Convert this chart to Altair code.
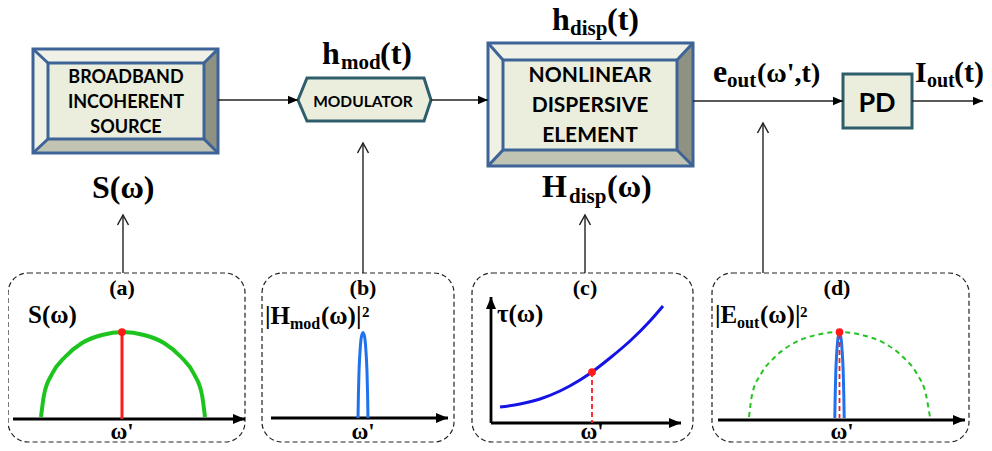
import altair as alt
import pandas as pd

# ---------------- data (positions, in px) ----------------
# bevelled blocks: outer frame and inner face
block_name = ["source", "dispersive"]
outer_left = [33, 488]
outer_top = [49, 43]
outer_right = [218, 693]
outer_bottom = [153, 166]
inner_left = [48, 503]
inner_top = [63, 60]
inner_right = [204, 677]
inner_bottom = [139, 150]

# modulator hexagon
hex_x = [298, 307, 424, 431]
hex_top = [100, 78, 78, 100]
hex_bottom = [100, 121, 121, 100]

# photodetector box
pd_left, pd_top, pd_right, pd_bottom = [843], [74], [912], [128]

# signal path (horizontal arrows)
conn_from = [218, 431, 693, 912]
conn_to = [298, 488, 843, 983]
conn_y = [100, 100, 101, 101]

# vertical arrows from the insets
varr_x = [123, 363, 585, 763]
varr_tip = [215, 143, 215, 123]
varr_foot = [273, 273, 273, 273]

# inset panels
panel_left = [8, 262, 472, 712]
panel_right = [245, 454, 693, 969]
panel_top = [273, 273, 273, 273]
panel_bottom = [442, 442, 442, 442]

# inset horizontal axes
axis_from = [13, 271, 491, 718]
axis_to = [245, 448, 681, 965]
axis_y = [419, 418, 423, 420]
# inset (c) vertical axis
vaxis_x = [491]
vaxis_from = [423]
vaxis_to = [297]

# (a) source spectrum S(w)
spec_a_x = [41, 44, 52, 65, 82, 102, 123, 144, 164, 181, 194, 202, 205]
spec_a_y = [417, 395, 374, 357, 343, 335, 332, 335, 343, 357, 374, 395, 417]
# (d) source spectrum (dashed)
spec_d_x = [749, 752, 761, 775, 794, 816, 839, 862, 884, 903, 917, 926, 930]
spec_d_y = [417, 395, 374, 357, 343, 335, 332, 335, 343, 357, 374, 395, 417]
# (b) modulator transfer |Hmod|^2
peak_b_x = [358.0, 358.4, 359.0, 360.0, 361.2, 363.0, 364.8, 366.0, 367.0, 367.6, 368.0]
peak_b_y = [418, 395, 372, 352, 338, 332.5, 338, 352, 372, 395, 418]
# (d) output spectrum |Eout|^2
peak_d_x = [834.8, 835.2, 835.8, 836.8, 838.0, 839.5, 841.0, 842.2, 843.2, 843.8, 844.2]
peak_d_y = [418, 395, 372, 352, 338, 333, 338, 352, 372, 395, 418]
# (c) group delay tau(w)
tau_x = [500, 520, 540, 560, 580, 592, 610, 630, 650, 663]
tau_y = [407, 404, 399, 391, 380, 372, 358, 341, 321, 306]

# red markers at w'
dot_x = [122, 592, 839.5]
dot_y = [332, 372, 332]
red_solid_x, red_solid_top, red_solid_bottom = [122], [332], [419]
red_dash_x = [592, 839.5]
red_dash_top = [372, 334]
red_dash_bottom = [423, 418]

# block texts
src_text = ["BROADBAND", "INCOHERENT", "SOURCE"]
src_text_y = [83, 108, 133]
disp_text = ["NONLINEAR", "DISPERSIVE", "ELEMENT"]
disp_text_y = [82, 112, 142]

# math labels: main pieces, subscripts
big_text = ["h", "(t)", "h", "(t)", "H", "(\u03c9)", "S(\u03c9)", "e"]
big_x = [322, 380, 552, 607, 542, 607, 92, 713]
big_y = [64, 64, 30, 30, 197, 197, 198, 82]
eout_text = ["(\u03c9',t)"]
eout_x = [757]
eout_y = [82]
iout_text = ["I", "(t)"]
iout_x = [915, 954]
iout_y = [82, 82]
bigsub_text = ["mod", "disp", "disp", "out"]
bigsub_x = [341, 570, 569, 727]
bigsub_y = [69, 35, 203, 87]
iout_sub_text = ["out"]
iout_sub_x = [927]
iout_sub_y = [87]

pan_text = ["S(\u03c9)", "|H", "(\u03c9)|", "\u03c4(\u03c9)", "|E", "(\u03c9)|"]
pan_x = [28, 265, 321, 497, 715, 760]
pan_y = [323, 324, 324, 322, 323, 323]
pansub_text = ["mod", "out"]
pansub_x = [290, 737]
pansub_y = [329, 328]
pansup_text = ["2", "2"]
pansup_x = [362, 800]
pansup_y = [317, 317]
title_text = ["(a)", "(b)", "(c)", "(d)"]
title_x = [122, 363, 585, 837]
title_y = [295, 295, 295, 295]
omega_x = [122, 363, 592, 842]
omega_y = [439, 439, 439, 439]

# ---------------- styling ----------------
FACE = "#ebeedd"
BEV_TOP = "#f0f2e8"
BEV_LEFT = "#eef1e4"
BEV_RIGHT = "#8f9283"
BEV_BOT = "#c1c4b3"
BLUE_EDGE = "#3e6497"
TEAL_EDGE = "#2e5e6b"
SERIF = "Liberation Serif"
SANS = "Lato"

XS = alt.Scale(domain=[8, 984], nice=False, zero=False)
YS = alt.Scale(domain=[8, 443], nice=False, zero=False, reverse=True)


def ex(f="x"):
    return alt.X(f"{f}:Q", scale=XS, axis=None, stack=False)


def ey(f="y"):
    return alt.Y(f"{f}:Q", scale=YS, axis=None, stack=False)


layers = []

# --- bevel pieces ---
top_rows, bot_rows, left_rows, right_rows = [], [], [], []
for k, nm in enumerate(block_name):
    L, T, R, B = outer_left[k], outer_top[k], outer_right[k], outer_bottom[k]
    l, t, r, b = inner_left[k], inner_top[k], inner_right[k], inner_bottom[k]
    for x, y1, y2 in [(L, T, T), (l, T, t), (r, T, t), (R, T, T)]:
        top_rows.append(dict(p=nm, x=x, y=y1, y2=y2))
    for x, y1, y2 in [(L, B, B), (l, b, B), (r, b, B), (R, B, B)]:
        bot_rows.append(dict(p=nm, x=x, y=y1, y2=y2))
    for y, x1, x2 in [(T, L, L), (t, L, l), (b, L, l), (B, L, L)]:
        left_rows.append(dict(p=nm, y=y, x=x1, x2=x2))
    for y, x1, x2 in [(T, R, R), (t, r, R), (b, r, R), (B, R, R)]:
        right_rows.append(dict(p=nm, y=y, x=x1, x2=x2))

for rows, col in [(top_rows, BEV_TOP), (bot_rows, BEV_BOT)]:
    layers.append(alt.Chart(pd.DataFrame(rows)).mark_area(orient="vertical", color=col, opacity=1).encode(
        x=ex(), y=ey(), y2="y2:Q", detail="p:N"))
for rows, col in [(left_rows, BEV_LEFT), (right_rows, BEV_RIGHT)]:
    layers.append(alt.Chart(pd.DataFrame(rows)).mark_area(orient="horizontal", color=col, opacity=1).encode(
        y=ey(), x=ex(), x2="x2:Q", detail="p:N"))

blocks = pd.DataFrame(dict(p=block_name, L=outer_left, T=outer_top, R=outer_right, B=outer_bottom,
                           l=inner_left, t=inner_top, r=inner_right, b=inner_bottom))
layers.append(alt.Chart(blocks).mark_rect(fillOpacity=0, stroke=BLUE_EDGE, strokeWidth=3).encode(
    x=ex("L"), x2="R:Q", y=ey("T"), y2="B:Q"))
layers.append(alt.Chart(blocks).mark_rect(fill=FACE, stroke=BLUE_EDGE, strokeWidth=3).encode(
    x=ex("l"), x2="r:Q", y=ey("t"), y2="b:Q"))
diag = []
for k in range(len(block_name)):
    diag += [dict(x=outer_left[k], y=outer_top[k], x2=inner_left[k], y2=inner_top[k]),
             dict(x=outer_right[k], y=outer_top[k], x2=inner_right[k], y2=inner_top[k]),
             dict(x=outer_left[k], y=outer_bottom[k], x2=inner_left[k], y2=inner_bottom[k]),
             dict(x=outer_right[k], y=outer_bottom[k], x2=inner_right[k], y2=inner_bottom[k])]
layers.append(alt.Chart(pd.DataFrame(diag)).mark_rule(color=BLUE_EDGE, strokeWidth=3).encode(
    x=ex(), y=ey(), x2="x2:Q", y2="y2:Q"))

# --- modulator hexagon ---
layers.append(alt.Chart(pd.DataFrame(dict(x=hex_x, y=hex_top, y2=hex_bottom))).mark_area(
    orient="vertical", fill=FACE, stroke=TEAL_EDGE, strokeWidth=3, strokeJoin="miter", opacity=1).encode(
    x=ex(), y=ey(), y2="y2:Q"))

# --- PD box ---
layers.append(alt.Chart(pd.DataFrame(dict(L=pd_left, T=pd_top, R=pd_right, B=pd_bottom))).mark_rect(
    fill=FACE, stroke=TEAL_EDGE, strokeWidth=3).encode(x=ex("L"), x2="R:Q", y=ey("T"), y2="B:Q"))

# --- signal path arrows ---
conn = pd.DataFrame(dict(x=conn_from, x2=conn_to, y=conn_y))
layers.append(alt.Chart(conn).mark_rule(color="#222222", strokeWidth=1.6).encode(x=ex(), x2="x2:Q", y=ey()))
layers.append(alt.Chart(conn).mark_point(shape="M0,0L-1,-0.42L-1,0.42Z", size=400, filled=True,
                                         color="black", opacity=1, strokeWidth=0).encode(x=ex("x2"), y=ey()))

# --- vertical arrows ---
varr = pd.DataFrame(dict(x=varr_x, y=varr_tip, y2=varr_foot))
layers.append(alt.Chart(varr).mark_rule(color="#222222", strokeWidth=1.4).encode(x=ex(), y=ey(), y2="y2:Q"))
layers.append(alt.Chart(varr).mark_point(shape="M-0.55,1L0,0L0.55,1", size=400, filled=False,
                                         color="#222222", opacity=1, strokeWidth=1.5).encode(x=ex(), y=ey()))

# --- inset panels ---
layers.append(alt.Chart(pd.DataFrame(dict(L=panel_left, R=panel_right, T=panel_top, B=panel_bottom))).mark_rect(
    fill="white", stroke="#222222", strokeWidth=1.2, strokeDash=[5, 3], cornerRadius=20).encode(
    x=ex("L"), x2="R:Q", y=ey("T"), y2="B:Q"))

# --- inset axes ---
ax = pd.DataFrame(dict(x=axis_from, x2=axis_to, y=axis_y))
layers.append(alt.Chart(ax).mark_rule(color="black", strokeWidth=2.8).encode(x=ex(), x2="x2:Q", y=ey()))
layers.append(alt.Chart(ax).mark_point(shape="M0,0L-1,-0.42L-1,0.42Z", size=576, filled=True,
                                       color="black", opacity=1, strokeWidth=0).encode(x=ex("x2"), y=ey()))
vax = pd.DataFrame(dict(x=vaxis_x, y=vaxis_from, y2=vaxis_to))
layers.append(alt.Chart(vax).mark_rule(color="black", strokeWidth=2.8).encode(x=ex(), y=ey(), y2="y2:Q"))
layers.append(alt.Chart(vax).mark_point(shape="M0,0L-0.42,1L0.42,1Z", size=576, filled=True,
                                        color="black", opacity=1, strokeWidth=0).encode(x=ex(), y=ey("y2")))


# --- curves ---
def curve(xv, yv, color, width, dash=None):
    df = pd.DataFrame(dict(x=xv, y=yv, i=list(range(len(xv)))))
    kw = dict(color=color, strokeWidth=width, interpolate="monotone", opacity=1)
    if dash:
        kw["strokeDash"] = dash
    return alt.Chart(df).mark_line(**kw).encode(x=ex(), y=ey(), order="i:Q")


layers.append(curve(spec_a_x, spec_a_y, "#1ec41e", 4))
layers.append(curve(spec_d_x, spec_d_y, "#22c322", 2, [5, 4]))
layers.append(curve(peak_b_x, peak_b_y, "#1f72ee", 3))
layers.append(curve(peak_d_x, peak_d_y, "#1f72ee", 3))
layers.append(curve(tau_x, tau_y, "#1414e6", 3))

# --- red markers ---
layers.append(alt.Chart(pd.DataFrame(dict(x=red_solid_x, y=red_solid_top, y2=red_solid_bottom))).mark_rule(
    color="#ff1a1a", strokeWidth=3).encode(x=ex(), y=ey(), y2="y2:Q"))
layers.append(alt.Chart(pd.DataFrame(dict(x=red_dash_x, y=red_dash_top, y2=red_dash_bottom))).mark_rule(
    color="#ff1a1a", strokeWidth=1.8, strokeDash=[5, 3]).encode(x=ex(), y=ey(), y2="y2:Q"))
layers.append(alt.Chart(pd.DataFrame(dict(x=dot_x, y=dot_y))).mark_circle(
    color="#ff1a1a", size=60, opacity=1).encode(x=ex(), y=ey()))


# --- texts ---
def texts(tv, xv, yv, size, font=SERIF, align="left"):
    df = pd.DataFrame(dict(t=tv, x=xv, y=yv))
    return alt.Chart(df).mark_text(font=font, fontSize=size, fontWeight="bold", align=align,
                                   baseline="alphabetic", color="black").encode(x=ex(), y=ey(), text="t:N")


layers.append(texts(src_text, [126] * 3, src_text_y, 18, SANS, "center"))
layers.append(texts(disp_text, [590] * 3, disp_text_y, 21, SANS, "center"))
layers.append(texts(["MODULATOR"], [363], [107], 15.5, SANS, "center"))
layers.append(texts(["PD"], [877], [112], 27, SANS, "center"))

layers.append(texts(big_text, big_x, big_y, 32))
layers.append(texts(eout_text, eout_x, eout_y, 28))
layers.append(texts(iout_text, iout_x, iout_y, 30))
layers.append(texts(bigsub_text, bigsub_x, bigsub_y, 21))
layers.append(texts(iout_sub_text, iout_sub_x, iout_sub_y, 20))
layers.append(texts(pan_text, pan_x, pan_y, 25))
layers.append(texts(pansub_text, pansub_x, pansub_y, 16))
layers.append(texts(pansup_text, pansup_x, pansup_y, 15))
layers.append(texts(title_text, title_x, title_y, 22, SERIF, "center"))
layers.append(texts(["\u03c9'"] * 4, omega_x, omega_y, 23, SERIF, "center"))

chart = alt.layer(*layers).properties(
    width=976, height=435, padding=0, autosize=alt.AutoSizeParams(type="none"),
    background="white",
).configure_view(strokeWidth=0)

chart.save("out.html", embed_options={"renderer": "svg", "actions": False})
